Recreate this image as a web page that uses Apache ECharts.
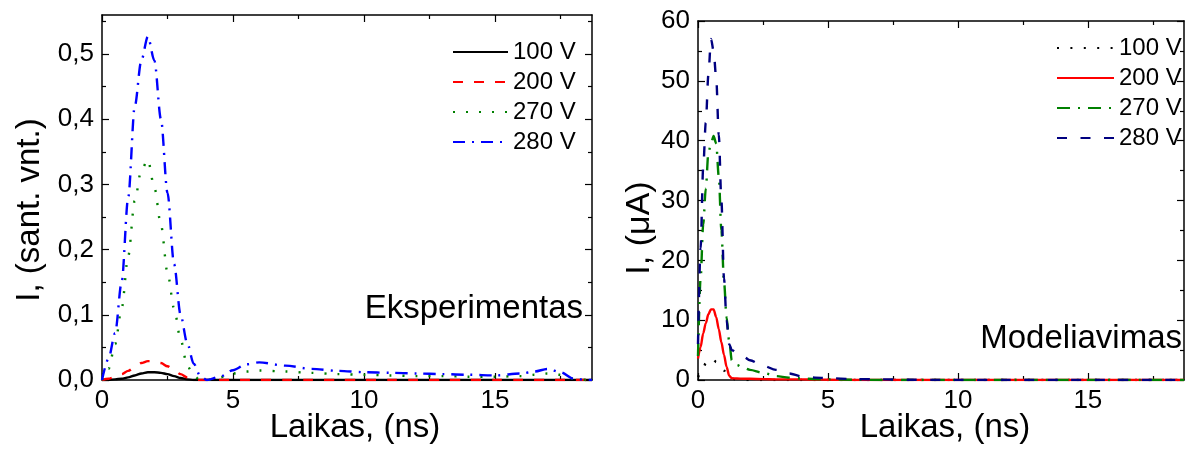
<!DOCTYPE html>
<html>
<head>
<meta charset="utf-8">
<script src="https://cdn.jsdelivr.net/npm/echarts@6/dist/echarts.min.js"></script>
<style>
  html, body { margin: 0; padding: 0; background: #fff; }
  #chart { width: 1187px; height: 451px; }
</style>
</head>
<body>
<div id="chart"></div>
<script>
// Bias voltages shown in both panels
const voltages = ['100 V', '200 V', '270 V', '280 V'];

// Measured current pulses, time in ns, current in arbitrary units
const tExp = [0, 0.25, 0.5, 0.75, 1.0, 1.25, 1.5, 1.75, 2.0, 2.25, 2.5, 2.75, 3.0, 3.25, 3.5, 3.75, 4.0, 4.5, 5, 5.5, 6, 7, 8, 9, 10, 11, 12, 13, 14, 15, 16, 16.5, 17, 17.5, 18, 18.5, 18.7];
const exp100 = [0, 0, 0.001, 0.002, 0.004, 0.007, 0.010, 0.012, 0.012, 0.011, 0.009, 0.006, 0.003, 0.001, 0, 0, 0, 0, 0, 0, 0, 0, 0, 0, 0, 0, 0, 0, 0, 0, 0, 0, 0, 0, 0, 0, 0];
const exp200 = [0, 0.002, 0.005, 0.009, 0.014, 0.020, 0.026, 0.029, 0.029, 0.026, 0.021, 0.015, 0.009, 0.004, 0.001, 0, 0, 0, 0, 0, 0, 0, 0, 0, 0, 0, 0, 0, 0, 0, 0, 0, 0, 0, 0, 0, 0];
const exp270 = [0, 0.017, 0.055, 0.11, 0.19, 0.275, 0.322, 0.338, 0.295, 0.238, 0.165, 0.11, 0.062, 0.022, 0.006, 0, 0, 0.004, 0.010, 0.013, 0.0145, 0.013, 0.011, 0.009, 0.008, 0.007, 0.006, 0.006, 0.005, 0.005, 0.006, 0.008, 0.010, 0.008, 0.002, 0, 0];
const exp280 = [0, 0.033, 0.072, 0.15, 0.28, 0.42, 0.49, 0.527, 0.49, 0.40, 0.287, 0.178, 0.10, 0.057, 0.025, 0.006, 0, 0.005, 0.015, 0.024, 0.027, 0.022, 0.017, 0.014, 0.012, 0.011, 0.010, 0.009, 0.008, 0.007, 0.010, 0.013, 0.017, 0.012, 0.002, 0, 0];

// Simulated current pulses, time in ns, current in µA
const tSim = [0, 0.1, 0.2, 0.3, 0.4, 0.5, 0.6, 0.7, 0.8, 0.9, 1.0, 1.1, 1.2, 1.3, 1.5, 1.75, 2.0, 2.5, 3.0, 3.5, 4.0, 4.5, 5.0, 6.0, 7.0, 8.0, 10, 12, 14, 16, 18, 18.7];
const sim100 = [0.5, 1.2, 2.0, 2.8, 3.3, 3.5, 3.4, 3.0, 2.6, 2.2, 1.6, 1.0, 0.5, 0.2, 0.1, 0, 0, 0, 0, 0, 0, 0, 0, 0, 0, 0, 0, 0, 0, 0, 0, 0];
const sim200 = [3.6, 5.5, 7.8, 9.5, 11.0, 11.8, 11.8, 10.5, 8.5, 6.3, 4.2, 2.2, 0.7, 0.3, 0.25, 0.2, 0.2, 0.15, 0.1, 0.1, 0.1, 0.08, 0.05, 0, 0, 0, 0, 0, 0, 0, 0, 0];
const sim270 = [4, 17, 26, 32, 38, 39.5, 40.8, 39.5, 34, 25, 16.5, 10.5, 6.5, 3.3, 2.5, 2.0, 1.7, 1.2, 0.65, 0.4, 0.25, 0.15, 0.1, 0.05, 0, 0, 0, 0, 0, 0, 0, 0];
const sim280 = [6, 22, 35.5, 43, 51, 57, 55, 50.5, 41, 30, 17, 10, 6, 5, 4.5, 3.9, 3.3, 2.4, 1.7, 1.1, 0.6, 0.4, 0.3, 0.15, 0.1, 0.05, 0, 0, 0, 0, 0, 0];

// Axis ranges and tick positions
const tMax = 18.7;
const xTicks = [0, 5, 10, 15];
const xMinorTicks = [2.5, 7.5, 12.5, 17.5];
const expYMax = 0.56;
const expYTicks = [0, 0.1, 0.2, 0.3, 0.4, 0.5];
const expYMinorTicks = [0.05, 0.15, 0.25, 0.35, 0.45, 0.55];
const simYMax = 60;
const simYTicks = [0, 10, 20, 30, 40, 50, 60];
const simYMinorTicks = [5, 15, 25, 35, 45, 55];

const FONT = '"Liberation Sans", Arial, sans-serif';

// One side of the frame: a labelled (or bare) axis with long ticks, and an overlay with short ticks
function frameAxes(gridIndex, sides, min, max, major, minor, formatter) {
  const out = [];
  sides.forEach((pos, k) => {
    const labelled = k === 0;
    out.push({
      type: 'value', gridIndex, position: pos, min, max,
      axisLine: { show: true, onZero: false, lineStyle: { color: '#000', width: 1.5 } },
      axisTick: { show: true, inside: true, length: 7, customValues: major, lineStyle: { color: '#000', width: 1.2 } },
      axisLabel: {
        show: labelled, customValues: major, formatter,
        fontSize: 26, fontFamily: FONT, color: '#000', margin: 8
      },
      splitLine: { show: false }
    });
    out.push({
      type: 'value', gridIndex, position: pos, min, max,
      axisLine: { show: false, onZero: false },
      axisTick: { show: true, inside: true, length: 4, customValues: minor, lineStyle: { color: '#000', width: 1.2 } },
      axisLabel: { show: false },
      splitLine: { show: false }
    });
  });
  return out;
}

const commaFmt = v => v.toFixed(1).replace('.', ',');
const intFmt = v => String(Math.round(v));

const xAxes = [
  ...frameAxes(0, ['bottom', 'top'], 0, tMax, xTicks, xMinorTicks, intFmt),
  ...frameAxes(1, ['bottom', 'top'], 0, tMax, xTicks, xMinorTicks, intFmt)
];
const yAxes = [
  ...frameAxes(0, ['left', 'right'], 0, expYMax, expYTicks, expYMinorTicks, commaFmt),
  ...frameAxes(1, ['left', 'right'], 0, simYMax, simYTicks, simYMinorTicks, intFmt)
];

function pairs(t, v) { return t.map((x, i) => [x, v[i]]); }

const dashDot = [12, 7, 2, 7];
const expStyles = [
  { color: '#000000', type: 'solid' },
  { color: '#ff0000', type: [10, 11] },
  { color: '#008000', type: [2, 11] },
  { color: '#0000ff', type: dashDot }
];
const simStyles = [
  { color: '#000000', type: [2, 11.4] },
  { color: '#ff0000', type: 'solid' },
  { color: '#008000', type: [13, 8, 2, 8] },
  { color: '#000080', type: [10, 13.5] }
];

const expValues = [exp100, exp200, exp270, exp280];
const simValues = [sim100, sim200, sim270, sim280];

function makeSeries(prefix, t, values, styles, axisIdx) {
  return values.map((v, i) => ({
    name: prefix + ' ' + voltages[i],
    type: 'line',
    xAxisIndex: axisIdx, yAxisIndex: axisIdx,
    data: pairs(t, v),
    symbol: 'none', showSymbol: false,
    smooth: 0.3, smoothMonotone: 'x',
    lineStyle: { color: styles[i].color, width: 2.4, type: styles[i].type },
    itemStyle: { color: styles[i].color },
    emphasis: { disabled: true }
  }));
}

const series = [
  ...makeSeries('Eksperimentas', tExp, expValues, expStyles, 0),
  ...makeSeries('Modeliavimas', tSim, simValues, simStyles, 4)
];

// Legend entries show only the line sample, no marker
function legendFor(prefix, left, top, width) {
  return {
    data: voltages.map(v => prefix + ' ' + v),
    orient: 'vertical', left, top,
    itemWidth: width, itemHeight: 14, itemGap: 6,
    selectedMode: false,
    itemStyle: { opacity: 0 },
    formatter: n => n.slice(prefix.length + 1),
    textStyle: { fontSize: 24, fontFamily: FONT, color: '#000', lineHeight: 24 }
  };
}

const bigText = (text, x, y, extra) => ({
  type: 'text', x, y, silent: true, ...extra,
  style: Object.assign({ text, fontSize: 33, fontFamily: FONT, fill: '#000', align: 'center', verticalAlign: 'middle' }, extra && extra.style)
});

const option = {
  animation: false,
  backgroundColor: '#fff',
  grid: [
    { left: 102, top: 15, width: 490, height: 365 },
    { left: 698, top: 21, width: 486, height: 359 }
  ],
  xAxis: xAxes,
  yAxis: yAxes,
  legend: [
    legendFor('Eksperimentas', 447, 35, 55),
    legendFor('Modeliavimas', 1051, 31, 57)
  ],
  series,
  graphic: [
    bigText('Laikas, (ns)', 355, 428),
    bigText('Laikas, (ns)', 945, 428),
    bigText('I, (sant. vnt.)', 30, 210, { rotation: Math.PI / 2 }),
    bigText('I, (\u03bcA)', 640, 228, { rotation: Math.PI / 2, style: { fontSize: 34 } }),
    bigText('Eksperimentas', 583, 309, { style: { align: 'right' } }),
    bigText('Modeliavimas', 1182, 339, { style: { align: 'right' } })
  ]
};

const chart = echarts.init(document.getElementById('chart'), null, { renderer: 'canvas' });
chart.setOption(option);
</script>
</body>
</html>
